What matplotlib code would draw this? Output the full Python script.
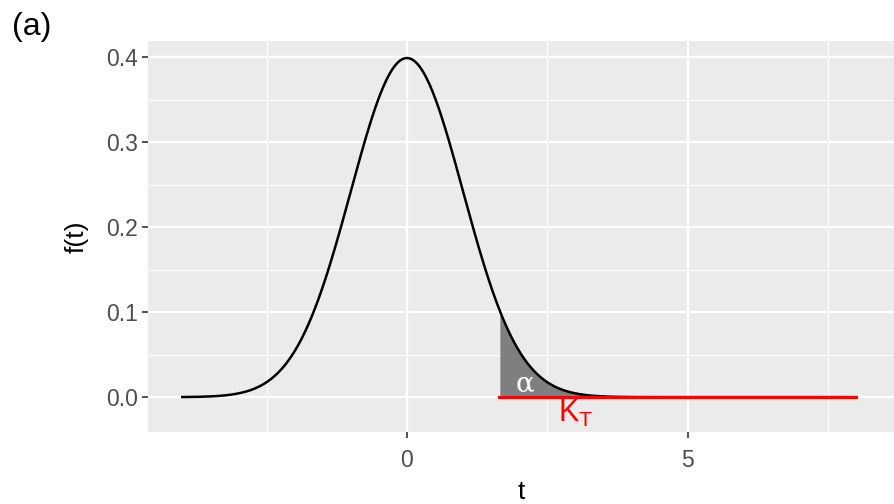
import numpy as np
import matplotlib.pyplot as plt

# standard normal density, critical value and tail label positions
t_min, t_max = -4.0, 8.0
k_t = 1.645
tick_x = [0, 5]
tick_y = [0.0, 0.1, 0.2, 0.3, 0.4]
tick_y_labels = ['0.0', '0.1', '0.2', '0.3', '0.4']
alpha_pos = (2.1, 0.016)
kt_pos = (3.0, -0.019)

t = np.linspace(t_min, t_max, 1200)
f = np.exp(-t ** 2 / 2) / np.sqrt(2 * np.pi)

plt.rcParams['font.family'] = ['Liberation Sans', 'DejaVu Sans']

fig = plt.figure(figsize=(8.95, 5.04), dpi=100)
ax = fig.add_axes([148 / 895, 1 - 432 / 504, (895 - 148) / 895, (432 - 41) / 504])
ax.set_facecolor('#EBEBEB')

# grid in ggplot style
for x in [-2.5, 2.5, 7.5]:
    ax.axvline(x, color='white', lw=0.8, zorder=0)
for x in tick_x:
    ax.axvline(x, color='white', lw=1.6, zorder=0)
for y in [0.05, 0.15, 0.25, 0.35]:
    ax.axhline(y, color='white', lw=0.8, zorder=0)
for y in tick_y:
    ax.axhline(y, color='white', lw=1.6, zorder=0)

tail = t >= k_t
ax.fill_between(t[tail], 0, f[tail], color='#7F7F7F', lw=0, zorder=1)
ax.plot(t, f, color='black', lw=1.8, zorder=3)
ax.plot([k_t, t_max], [0, 0], color='red', lw=2.2, zorder=4)

ax.text(alpha_pos[0], alpha_pos[1], 'α', color='white', fontsize=20,
        family=['DejaVu Serif'], ha='center', va='center', zorder=5)
ax.text(kt_pos[0], kt_pos[1], r'K$_{\mathregular{T}}$', color='red', fontsize=22,
        ha='center', va='center', zorder=5)

ax.set_xlim(-4.61, 8.69)
ax.set_ylim(-0.041, 0.419)
ax.set_xticks(tick_x)
ax.set_yticks(tick_y)
ax.set_yticklabels(tick_y_labels)
ax.tick_params(axis='both', colors='#333333', labelcolor='#4D4D4D',
               labelsize=16.5, length=4, width=1.2)
ax.tick_params(axis='x', pad=8)
ax.tick_params(axis='y', pad=3)
for s in ax.spines.values():
    s.set_visible(False)

ax.set_xlabel('t', fontsize=19, labelpad=6)
ax.set_ylabel('f(t)', fontsize=19, labelpad=13)

fig.text(12 / 895, 1 - 27 / 504, '(a)', fontsize=23, va='center', ha='left')

fig.savefig('out.png', dpi=100)
